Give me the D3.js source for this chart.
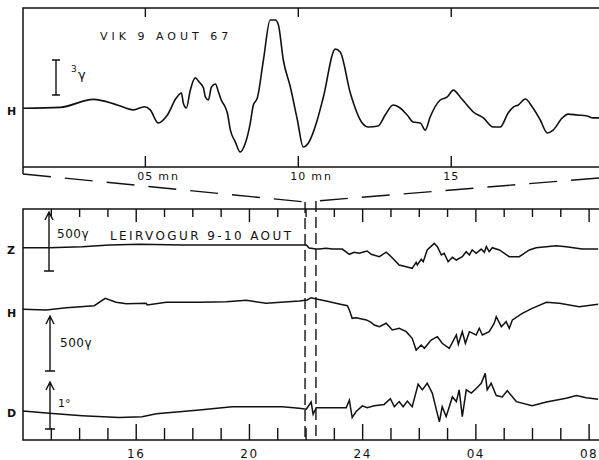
<!DOCTYPE html>
<html>
<head>
<meta charset="utf-8">
<script src="https://cdn.jsdelivr.net/npm/d3@7/dist/d3.min.js"></script>
<style>
  html, body { margin: 0; padding: 0; background: #fff; }
  svg { display: block; }
  text { font-family: "DejaVu Sans", "Liberation Sans", sans-serif; fill: #111; }
</style>
</head>
<body>
<svg id="chart" width="599" height="460"></svg>
<script>
// ---------- DATA ----------
// Top panel: VIK 9 AOUT 67, H component, time in minutes, value in gamma
const vikMinutes = [1.01, 2.22, 3.30, 4.08, 4.61, 4.97, 5.16, 5.42, 5.72, 6.01, 6.18, 6.24, 6.34, 6.47, 6.63, 6.76, 6.90, 6.96, 7.06, 7.16, 7.29, 7.39, 7.48, 7.61, 7.68, 7.78, 7.94, 8.10, 8.27, 8.43, 8.53, 8.66, 8.86, 9.08, 9.25, 9.35, 9.51, 9.74, 9.97, 10.16, 10.33, 10.62, 10.82, 11.21, 11.37, 11.70, 12.09, 12.29, 12.61, 12.84, 13.10, 13.33, 13.56, 13.76, 13.99, 14.15, 14.31, 14.64, 14.87, 15.07, 15.29, 15.46, 15.72, 16.05, 16.37, 16.60, 16.86, 17.03, 17.19, 17.42, 17.65, 17.91, 18.14, 18.33, 18.63, 18.82, 19.12, 19.44, 19.64, 19.84];
const vikH = [-0.02, 0.04, 0.54, 0.19, -0.12, 0.08, -0.12, -0.94, -0.44, 0.62, 0.94, 0.31, 0.00, 1.12, 1.88, 1.62, 1.25, 0.69, 0.50, 1.31, 1.50, 1.00, 0.50, 0.06, -0.31, -1.38, -2.12, -2.75, -2.19, -0.94, 0.19, 0.62, 3.00, 5.50, 5.50, 5.19, 3.00, 1.31, -0.75, -2.44, -2.19, -0.75, 0.69, 3.69, 3.50, 0.94, -0.94, -1.19, -1.12, -0.44, 0.19, 0.00, -0.44, -0.88, -0.94, -1.38, -0.56, 0.50, 0.69, 1.12, 0.69, 0.31, -0.25, -0.62, -1.19, -1.19, -0.31, 0.06, 0.19, 0.56, 0.06, -0.75, -1.56, -1.38, -0.62, -0.38, -0.44, -0.50, -0.62, -0.62];
const vikTicks = [5, 10, 15];
const vikTickLabels = ["05", "10", "15"];

// Bottom panel: LEIRVOGUR 9-10 AOUT, time in hours since 00h on the 9th (24 = midnight)
const zHours = [12.0, 12.93, 14.09, 15.05, 16.11, 17.63, 19.39, 21.76, 22.01, 22.11, 22.36, 22.47, 22.71, 22.93, 23.28, 23.53, 23.70, 23.88, 24.06, 24.16, 24.30, 24.59, 24.83, 25.01, 25.29, 25.54, 25.75, 25.89, 25.93, 26.07, 26.14, 26.28, 26.53, 26.64, 26.78, 26.88, 27.02, 27.17, 27.31, 27.52, 27.66, 27.77, 27.87, 28.01, 28.19, 28.30, 28.37, 28.47, 28.58, 28.83, 29.18, 29.53, 29.89, 30.13, 30.84, 31.19, 31.76, 32.32];
const zValues = [-6, -6, 3, 18, 24, 18, 18, 18, 18, -9, -18, -18, -11, -18, -18, -64, -46, -55, -41, -35, -64, -85, -46, -85, -158, -173, -187, -134, -158, -108, -129, -26, 32, 3, -70, -55, -129, -90, -114, -85, -41, -70, -26, -55, -18, -46, 3, -41, -6, -26, -85, -85, -26, -6, 11, 3, -18, -18];

const hHours = [12.0, 12.82, 13.53, 14.52, 14.90, 15.29, 15.65, 16.35, 16.39, 17.06, 18.23, 19.18, 19.89, 20.59, 21.76, 22.04, 22.18, 22.36, 22.71, 23.17, 23.46, 23.53, 23.63, 23.77, 24.13, 24.30, 24.41, 24.59, 24.83, 25.05, 25.29, 25.54, 25.75, 25.89, 26.07, 26.18, 26.42, 26.64, 26.81, 27.06, 27.31, 27.38, 27.52, 27.63, 27.77, 28.01, 28.12, 28.23, 28.47, 28.65, 28.72, 28.90, 29.07, 29.18, 29.29, 29.64, 29.99, 30.49, 30.95, 31.65, 32.32];
const hValues = [-3, -9, 11, 29, 94, 59, 46, 50, 35, 59, 59, 64, 76, 50, 70, 79, 99, 88, 70, 44, 29, -9, -82, -76, -96, -117, -140, -155, -125, -184, -169, -199, -257, -360, -316, -345, -272, -243, -301, -345, -228, -310, -199, -301, -199, -228, -169, -228, -199, -125, -68, -155, -111, -169, -96, -38, 6, 59, 50, 20, 41];

const dHours = [12.0, 12.93, 14.09, 15.40, 16.21, 16.71, 18.23, 19.39, 21.16, 21.76, 22.01, 22.18, 22.25, 22.36, 22.93, 23.42, 23.53, 23.63, 23.77, 23.99, 24.16, 24.41, 24.76, 24.98, 25.12, 25.29, 25.43, 25.58, 25.75, 25.96, 26.11, 26.28, 26.46, 26.71, 26.81, 26.95, 27.17, 27.31, 27.41, 27.52, 27.66, 27.84, 28.01, 28.19, 28.33, 28.40, 28.54, 28.72, 28.93, 29.11, 29.43, 29.99, 30.49, 31.19, 31.55, 31.90, 32.32];
const dValues = [0.00, -0.05, -0.10, -0.14, -0.12, -0.06, 0.02, 0.09, 0.09, 0.06, 0.04, 0.19, -0.07, 0.07, 0.07, 0.07, 0.23, -0.14, -0.01, 0.11, 0.07, 0.11, 0.14, 0.26, 0.09, 0.20, 0.09, 0.21, 0.09, 0.57, 0.45, 0.59, 0.38, -0.23, 0.09, -0.12, 0.30, 0.20, 0.45, -0.12, 0.45, 0.38, 0.48, 0.59, 0.80, 0.45, 0.59, 0.33, 0.30, 0.43, 0.20, 0.11, 0.19, 0.27, 0.33, 0.28, 0.25];

const hourTicks = [13, 14, 15, 16, 17, 18, 19, 20, 21, 22, 23, 24, 25, 26, 27, 28, 29, 30, 31, 32];
const hourLabelTicks = [16, 20, 24, 28, 32];
const hourLabels = ["16", "20", "24", "04", "08"];
const zoomWindow = [22.0, 22.35]; // hours covered by the top panel

// ---------- LAYOUT ----------
const svg = d3.select("#chart");
const L = 23, R = 599;
const top1 = 8, bot1 = 167;
const top2 = 209, bot2 = 440;

const xTop = d3.scaleLinear().domain([1.0, 19.83]).range([L, R]);
const yTop = d3.scaleLinear().domain([0, 3]).range([108, 60]);

const xBot = d3.scaleLinear().domain([12, 32.35]).range([L, R]);
const yZ = d3.scaleLinear().domain([0, 500]).range([247, 190]);
const yH = d3.scaleLinear().domain([0, 500]).range([309, 252]);
const yD = d3.scaleLinear().domain([0, 1]).range([411, 364]);

const ink = "#111";
const g = svg.append("g").attr("stroke", ink).attr("fill", "none");

// ---------- TOP PANEL ----------
g.append("path").attr("stroke-width", 1.5)
  .attr("d", `M${R},${top1}H${L}V${bot1 + 7}`);
g.append("path").attr("stroke-width", 1.5)
  .attr("d", `M${L},${bot1}H${R}`);

vikTicks.forEach(m => {
  g.append("line").attr("x1", xTop(m)).attr("x2", xTop(m))
    .attr("y1", top1).attr("y2", top1 + 9).attr("stroke-width", 1.4);
  g.append("line").attr("x1", xTop(m)).attr("x2", xTop(m))
    .attr("y1", bot1).attr("y2", bot1 - 11).attr("stroke-width", 1.4);
});

const topLine = d3.line()
  .x((d, i) => xTop(vikMinutes[i]))
  .y(d => yTop(d))
  .curve(d3.curveMonotoneX);
g.append("path").datum(vikH).attr("stroke-width", 1.6).attr("d", topLine);

// 3 gamma scale bar
const sbX = 56;
g.append("path").attr("stroke-width", 1.4)
  .attr("d", `M${sbX},${yTop(3)}V${yTop(0) - 13}M${sbX - 4},${yTop(3)}H${sbX + 4}M${sbX - 4},${yTop(0) - 13}H${sbX + 4}`);

const tx = svg.append("g");
tx.append("text").attr("x", 71).attr("y", 72).attr("font-size", 9).text("3");
tx.append("text").attr("x", 78).attr("y", 79).attr("font-size", 13).text("γ");
tx.append("text").attr("x", 100).attr("y", 40).attr("font-size", 11)
  .attr("letter-spacing", 4).text("VIK 9 AOUT 67");
tx.append("text").attr("x", 7).attr("y", 115).attr("font-size", 11).attr("font-weight", "bold").text("H");

vikTicks.forEach((m, i) => {
  tx.append("text").attr("x", xTop(m)).attr("y", 180).attr("font-size", 11)
    .attr("text-anchor", "middle").attr("letter-spacing", 1).text(vikTickLabels[i]);
  if (i < 2) {
    tx.append("text").attr("x", xTop(m) + 13).attr("y", 180).attr("font-size", 11)
      .attr("letter-spacing", 2).text("mn");
  }
});

// ---------- CONNECTORS ----------
const xa = xBot(zoomWindow[0]), xb = xBot(zoomWindow[1]);
g.append("path").attr("stroke-width", 1.4).attr("stroke-dasharray", "28,14")
  .attr("d", `M${L},${bot1 + 7}L${xa - 1},${top2 - 7}`);
g.append("path").attr("stroke-width", 1.4).attr("stroke-dasharray", "28,14")
  .attr("d", `M${R},${bot1 + 11}L${xb},${top2 - 8}`);
g.append("path").attr("stroke-width", 1.4).attr("stroke-dasharray", "11,5")
  .attr("d", `M${xa - 1},${top2 - 7}V${bot2}`);
g.append("path").attr("stroke-width", 1.4).attr("stroke-dasharray", "11,5")
  .attr("d", `M${xb},${top2 - 8}V${bot2}`);

// ---------- BOTTOM PANEL ----------
g.append("path").attr("stroke-width", 1.5)
  .attr("d", `M${R},${top2}H${L}V${bot2}H${R}`);

hourTicks.forEach(h => {
  const major = hourLabelTicks.includes(h);
  g.append("line").attr("x1", xBot(h)).attr("x2", xBot(h))
    .attr("y1", top2).attr("y2", top2 + (major ? 13 : 8)).attr("stroke-width", 1.4);
  g.append("line").attr("x1", xBot(h)).attr("x2", xBot(h))
    .attr("y1", bot2).attr("y2", bot2 - (major ? 16 : 12)).attr("stroke-width", 1.4);
});

const mkLine = (hours, ys) => d3.line().x((d, i) => xBot(hours[i])).y(d => ys(d));
g.append("path").datum(zValues).attr("stroke-width", 1.5).attr("d", mkLine(zHours, yZ));
g.append("path").datum(hValues).attr("stroke-width", 1.5).attr("d", mkLine(hHours, yH));
g.append("path").datum(dValues).attr("stroke-width", 1.5).attr("d", mkLine(dHours, yD));

// scale arrows
function arrow(x, yTip, yBase) {
  g.append("path").attr("stroke-width", 1.4)
    .attr("d", `M${x},${yBase}V${yTip}M${x - 4},${yTip + 8}L${x},${yTip}L${x + 4},${yTip + 8}M${x - 5},${yBase}H${x + 5}`);
}
arrow(49, 212, 271);
arrow(50, 316, 371);
arrow(50, 382, 429);

tx.append("text").attr("x", 57).attr("y", 238).attr("font-size", 12).attr("letter-spacing", 0.5).text("500γ");
tx.append("text").attr("x", 110).attr("y", 240).attr("font-size", 12)
  .attr("letter-spacing", 2.4).text("LEIRVOGUR 9-10 AOUT");
tx.append("text").attr("x", 60).attr("y", 347).attr("font-size", 12).attr("letter-spacing", 0.5).text("500γ");
tx.append("text").attr("x", 58).attr("y", 407).attr("font-size", 11).text("1°");

tx.append("text").attr("x", 7).attr("y", 254).attr("font-size", 11).attr("font-weight", "bold").text("Z");
tx.append("text").attr("x", 7).attr("y", 317).attr("font-size", 11).attr("font-weight", "bold").text("H");
tx.append("text").attr("x", 7).attr("y", 417).attr("font-size", 11).attr("font-weight", "bold").text("D");

hourLabelTicks.forEach((h, i) => {
  tx.append("text").attr("x", xBot(h)).attr("y", 458).attr("font-size", 12)
    .attr("text-anchor", "middle").attr("letter-spacing", 1.5).text(hourLabels[i]);
});
</script>
</body>
</html>
